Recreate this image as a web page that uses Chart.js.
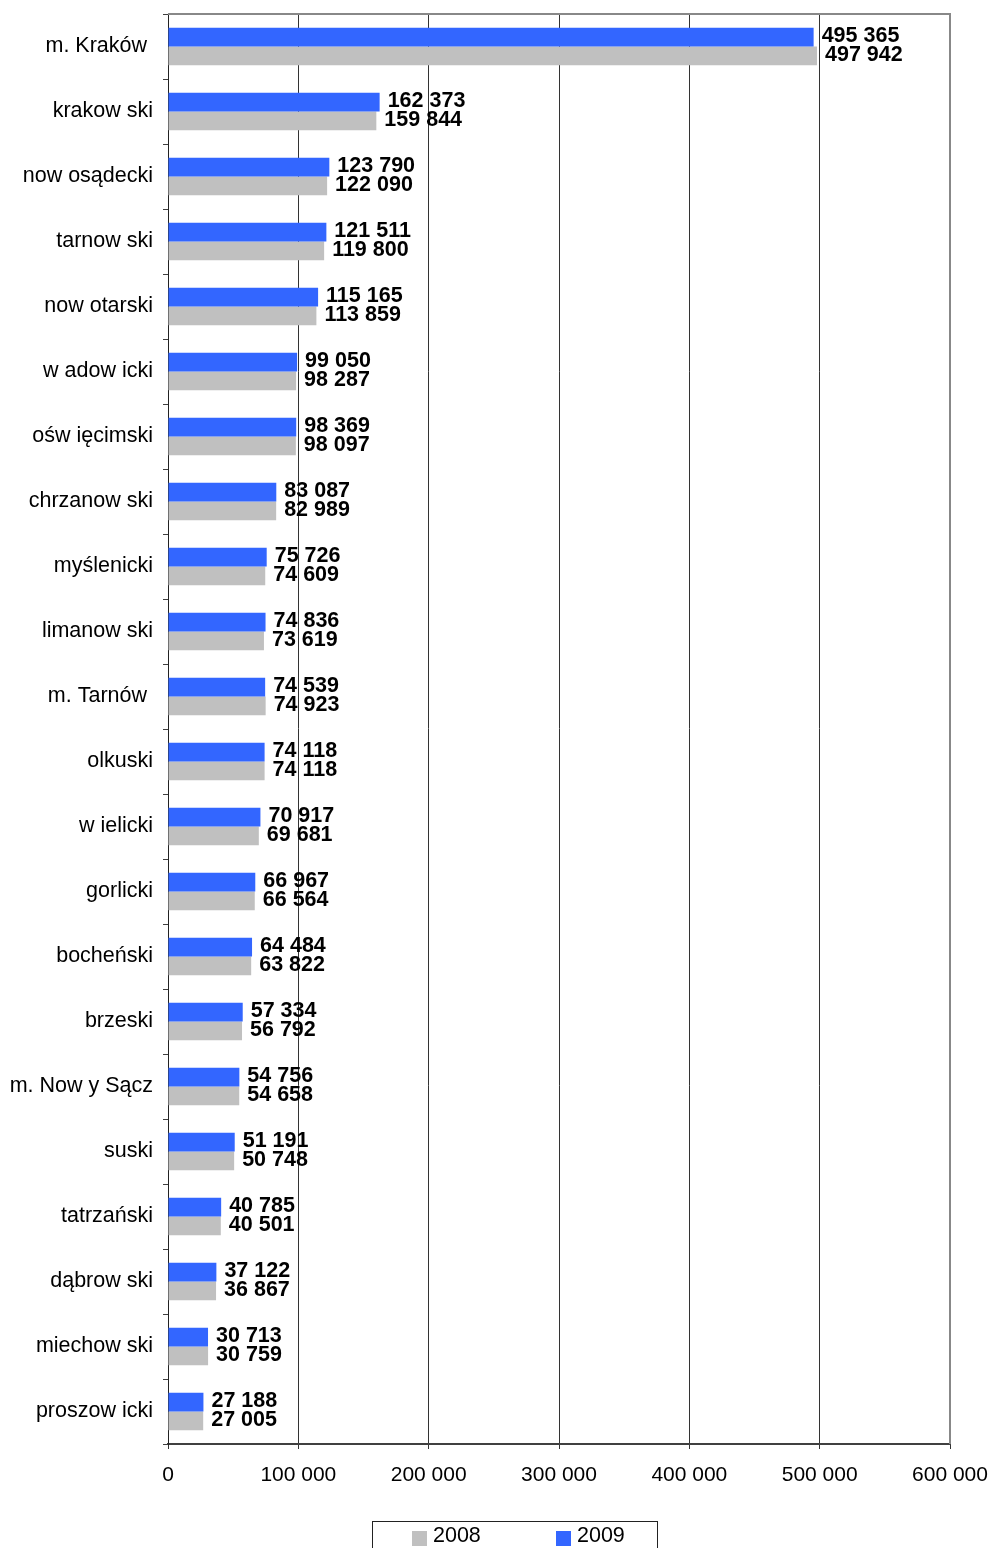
<!DOCTYPE html>
<html>
<head>
<meta charset="utf-8">
<script src="https://cdn.jsdelivr.net/npm/chart.js@4"></script>
<style>
    body { margin: 0; background: #fff; }
</style>
</head>
<body>
<canvas id="myChart" width="991" height="1548"></canvas>
<script>
const districts = ['m. Kraków ', 'krakow ski', 'now osądecki', 'tarnow ski', 'now otarski', 'w adow icki',
    'ośw ięcimski', 'chrzanow ski', 'myślenicki', 'limanow ski', 'm. Tarnów ', 'olkuski', 'w ielicki',
    'gorlicki', 'bocheński', 'brzeski', 'm. Now y Sącz', 'suski', 'tatrzański', 'dąbrow ski',
    'miechow ski', 'proszow icki'];
const values2009 = [495365, 162373, 123790, 121511, 115165, 99050, 98369, 83087, 75726, 74836, 74539,
    74118, 70917, 66967, 64484, 57334, 54756, 51191, 40785, 37122, 30713, 27188];
const values2008 = [497942, 159844, 122090, 119800, 113859, 98287, 98097, 82989, 74609, 73619, 74923,
    74118, 69681, 66564, 63822, 56792, 54658, 50748, 40501, 36867, 30759, 27005];
const axisTicks = [0, 100000, 200000, 300000, 400000, 500000, 600000];

const FONT = '"Liberation Sans", Arial, sans-serif';

function formatNumber(v) {
    return String(v).replace(/\B(?=(\d{3})+(?!\d))/g, ' ');
}

// value labels right of every bar
const valueLabels = {
    id: 'valueLabels',
    afterDatasetsDraw(chart) {
        const ctx = chart.ctx;
        ctx.save();
        ctx.font = 'bold 21.5px ' + FONT;
        ctx.fillStyle = '#000';
        ctx.textAlign = 'left';
        ctx.textBaseline = 'middle';
        chart.data.datasets.forEach((ds, i) => {
            chart.getDatasetMeta(i).data.forEach((bar, j) => {
                ctx.fillText(formatNumber(ds.data[j]), bar.x + 8, bar.y - 1);
            });
        });
        ctx.restore();
    }
};

// grey frame on top and right of the plot
const plotFrame = {
    id: 'plotFrame',
    beforeDatasetsDraw(chart) {
        const { ctx, chartArea } = chart;
        ctx.save();
        ctx.strokeStyle = '#888';
        ctx.lineWidth = 2;
        ctx.beginPath();
        ctx.moveTo(chartArea.left, chartArea.top);
        ctx.lineTo(chartArea.right, chartArea.top);
        ctx.lineTo(chartArea.right, chartArea.bottom);
        ctx.stroke();
        ctx.restore();
    }
};

// legend in a box, 2008 first
const boxedLegend = {
    id: 'boxedLegend',
    afterDraw(chart) {
        const ctx = chart.ctx;
        ctx.save();
        ctx.strokeStyle = '#222';
        ctx.lineWidth = 1;
        ctx.strokeRect(372.5, 1521.5, 285, 60);
        ctx.font = '21.5px ' + FONT;
        ctx.textBaseline = 'middle';
        const items = chart.data.datasets.slice().reverse();
        items.forEach((ds, i) => {
            const x = 412 + i * 144;
            ctx.fillStyle = ds.backgroundColor;
            ctx.fillRect(x, 1531, 15, 15);
            ctx.fillStyle = '#000';
            ctx.fillText(ds.label, x + 21, 1536);
        });
        ctx.restore();
    }
};

const ctx = document.getElementById('myChart').getContext('2d');
const chart = new Chart(ctx, {
    type: 'bar',
    data: {
        labels: districts,
        datasets: [
            { label: '2009', data: values2009, backgroundColor: '#3366FF' },
            { label: '2008', data: values2008, backgroundColor: '#C0C0C0' }
        ]
    },
    options: {
        indexAxis: 'y',
        responsive: false,
        animation: false,
        devicePixelRatio: 1,
        layout: { padding: { top: 14, right: 41, bottom: 54, left: 0 } },
        datasets: { bar: { categoryPercentage: 0.58, barPercentage: 1 } },
        plugins: {
            legend: { display: false },
            tooltip: { enabled: false }
        },
        scales: {
            x: {
                min: axisTicks[0],
                max: axisTicks[axisTicks.length - 1],
                afterBuildTicks: (scale) => { scale.ticks = axisTicks.map(v => ({ value: v })); },
                afterFit: (scale) => {
                    scale.height = 50;
                    scale.paddingLeft = 0;
                    scale.paddingRight = 0;
                },
                grid: { color: '#333', lineWidth: 1, tickLength: 5, tickColor: '#333' },
                border: { color: '#404040', width: 2 },
                ticks: {
                    font: { family: FONT, size: 21 },
                    color: '#000',
                    padding: 14,
                    maxRotation: 0,
                    callback: (v) => formatNumber(v)
                }
            },
            y: {
                afterFit: (scale) => {
                    scale.width = 168;
                    scale.paddingTop = 0;
                    scale.paddingBottom = 0;
                },
                grid: { drawOnChartArea: false, offset: true, tickLength: 5, color: '#404040' },
                border: { color: '#222', width: 1 },
                ticks: {
                    font: { family: FONT, size: 21.5 },
                    color: '#000',
                    padding: 10,
                    autoSkip: false
                }
            }
        }
    },
    plugins: [plotFrame, valueLabels, boxedLegend]
});
</script>
</body>
</html>
